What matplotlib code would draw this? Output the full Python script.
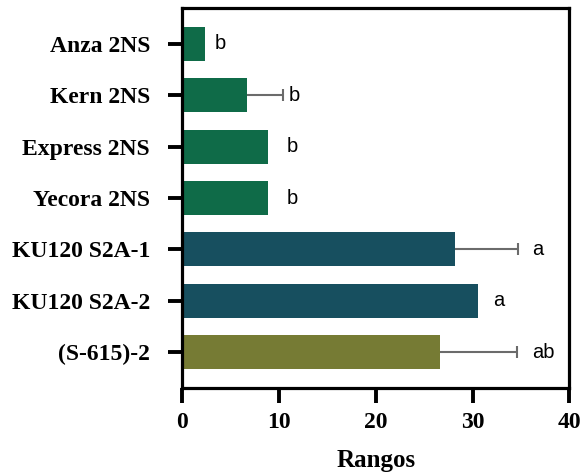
import matplotlib
matplotlib.use("Agg")
import matplotlib.pyplot as plt
import numpy as np

categories = ["Anza 2NS", "Kern 2NS", "Express 2NS", "Yecora 2NS",
              "KU120 S2A-1", "KU120 S2A-2", "(S-615)-2"]
values = [2.4, 6.7, 8.9, 8.9, 28.2, 30.6, 26.6]
errors = [0.0, 3.7, 0.0, 0.0, 6.5, 0.0, 8.0]
letters = ["b", "b", "b", "b", "a", "a", "ab"]
letter_x = [3.4, 11.0, 10.85, 10.85, 36.2, 32.1, 36.2]
colors = ["#0f6b48", "#0f6b48", "#0f6b48", "#0f6b48",
          "#174f5f", "#174f5f", "#767b34"]
xticks = [0, 10, 20, 30, 40]

fig = plt.figure(figsize=(5.87, 4.72), dpi=100)
ax = fig.add_axes([0.310, 0.178, 0.660, 0.805])

y = np.arange(len(categories))
ax.barh(y, values, height=0.66, color=colors, zorder=2)
for yi, v, e in zip(y, values, errors):
    if e > 0:
        ax.plot([v, v + e], [yi, yi], color="#6b6b6b", lw=1.5, zorder=3,
                solid_capstyle="butt")
        ax.plot([v + e], [yi], marker="|", markersize=8, mew=1.5,
                color="#6b6b6b", zorder=3)
for yi, lx, t in zip(y, letter_x, letters):
    ax.text(lx, yi, t, ha="left", va="center", fontsize=14.5,
            family="Liberation Sans", color="black")

ax.set_ylim(6.7, -0.7)
ax.set_xlim(0, 40)
ax.set_yticks(y)
ax.set_yticklabels(categories, fontsize=17, fontweight="bold", family="Liberation Serif")
ax.set_xticks(xticks)
ax.set_xticklabels([str(t) for t in xticks], fontsize=17, fontweight="bold", family="Liberation Serif")
ax.set_xlabel("Rangos", fontsize=18, fontweight="bold", family="Liberation Serif", labelpad=12)

for s in ax.spines.values():
    s.set_linewidth(2.3)
ax.tick_params(axis="y", length=10, width=2.8, pad=13)
ax.tick_params(axis="x", length=11, width=2.8, pad=6)

fig.savefig("out.png", dpi=100)
